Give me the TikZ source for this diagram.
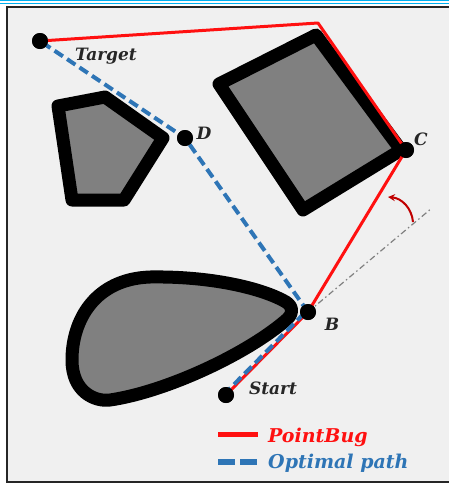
\documentclass[tikz,border=0pt]{standalone}
\usepackage{fontspec}
\setmainfont{DejaVu Serif}
\usetikzlibrary{arrows.meta}
\definecolor{bgray}{HTML}{F0F0F0}
\definecolor{obst}{HTML}{808080}
\definecolor{pbred}{HTML}{FF1010}
\definecolor{optblue}{HTML}{2E75B6}
\definecolor{topblue}{HTML}{00B0F0}
\definecolor{arrred}{HTML}{C00000}
\tikzset{
  obstacle/.style={draw=black, fill=obst, line width=13pt, line join=round},
  pt/.style={circle, fill=black, inner sep=0pt, minimum size=16pt},
  lbl/.style={font=\fontsize{17}{17}\selectfont\bfseries\itshape, text=black!85, inner sep=0pt},
  leg/.style={font=\fontsize{19}{19}\selectfont\bfseries\itshape, inner sep=0pt, anchor=west},
  redpath/.style={draw=pbred, line width=3pt, line join=round},
  bluepath/.style={draw=optblue, line width=4pt, dash pattern=on 10pt off 5pt},
}
\begin{document}
\begin{tikzpicture}[x=1pt, y=-1pt]
\useasboundingbox (0,0) rectangle (449,485);
\fill[white] (0,0) rectangle (449,485);
\draw[topblue, line width=1pt] (0,0.8) -- (449,0.8);
\draw[topblue, line width=1pt] (0,3.5) -- (449,3.5);
\draw[fill=bgray, draw=black!85, line width=2pt] (7,7) rectangle (455,482);
% obstacles
\draw[obstacle] (58,106) -- (105,97) -- (163,138) -- (124,200) -- (72,200) -- cycle;
\draw[obstacle] (316,35) -- (219,84) -- (303,210) -- (401,150) -- cycle;
\draw[obstacle] (150,277) .. controls (210,276) and (262,288) .. (286,302)
  .. controls (294,307) and (293,315) .. (285,321)
  .. controls (245,355) and (165,392) .. (110,400)
  .. controls (95,402) and (72,392) .. (72,360)
  .. controls (72,320) and (95,279) .. (150,277) -- cycle;
% points
\node[pt] (T) at (40,41) {};
\node[pt] (D) at (185,138) {};
\node[pt] (C) at (406,150) {};
\node[pt] (B) at (308,312) {};
\node[pt] (S) at (226,395) {};
\coordinate (R) at (318,23);
\coordinate (E) at (432,208);
% dash-dot extension
\draw[gray, line width=1.2pt, dash pattern=on 6pt off 3pt on 1.5pt off 3pt] (B.center) -- (E);
% red path
\draw[redpath] (S.center) -- (B.center) -- (C.center) -- (R) -- (T.center);
% blue path
\draw[bluepath] ([xshift=-2.5pt]S.center) -- ([xshift=-2.5pt]B.center);
\draw[bluepath] (B.center) -- (D.center) -- (T.center);
% redraw points on top
\foreach \p in {T,D,C,B,S} \fill (\p) circle (8pt);
% curved arrow
\coordinate (A1) at (413,222);
\coordinate (A2) at (388,197);
\draw[arrred, line width=2pt, -{Stealth[length=7pt,width=7pt]}] (A1) to[bend right=40] (A2);
% labels
\node[lbl] (tT) at (106,56) {Target};
\node[lbl] (tD) at (204,133) {D};
\node[lbl] (tC) at (421,139) {C};
\node[lbl] (tB) at (332,324) {B};
\node[lbl] (tS) at (273,388) {Start};
% legend
\coordinate (L1a) at (218,434);
\coordinate (L1b) at (258,434);
\coordinate (L2a) at (218,462);
\coordinate (L2b) at (258,462);
\draw[draw=pbred, line width=5pt] (L1a) -- (L1b);
\draw[draw=optblue, line width=6pt, dash pattern=on 17pt off 5pt] (L2a) -- (L2b);
\node[leg, text=pbred] (lg1) at (268,437) {PointBug};
\node[leg, text=optblue] (lg2) at (268,463) {Optimal path};
\end{tikzpicture}
\end{document}
